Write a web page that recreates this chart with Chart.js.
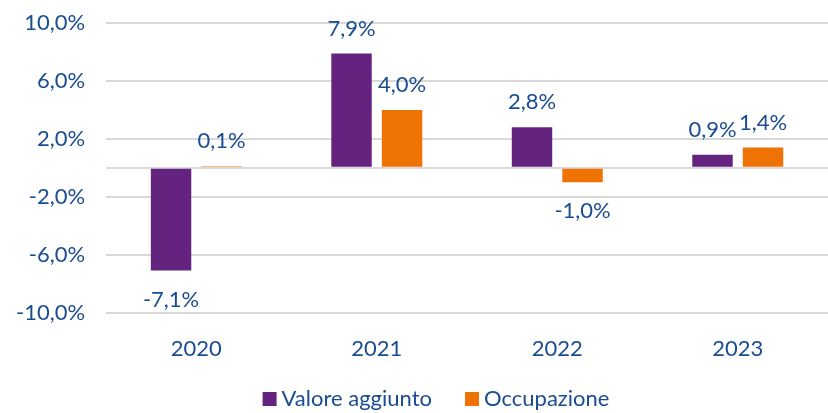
<!DOCTYPE html>
<html>
<head>
<meta charset="utf-8">
<script src="https://cdn.jsdelivr.net/npm/chart.js@4"></script>
<style>
  html, body { margin: 0; padding: 0; background: #fff; }
  #wrap { width: 828px; height: 413px; }
</style>
</head>
<body>
<div id="wrap"><canvas id="chart" width="828" height="413"></canvas></div>
<script>
const years = ['2020', '2021', '2022', '2023'];
const seriesNames = ['Valore aggiunto', 'Occupazione'];
const valoreAggiunto = [-7.1, 7.9, 2.8, 0.9];
const occupazione = [0.1, 4.0, -1.0, 1.4];
const yTicks = [-10, -6, -2, 2, 6, 10];

const textColor = '#1a4c91';
const fontFamily = 'Lato, "Noto Sans", sans-serif';
const fontSize = 22;

const fmt = v => v.toFixed(1).replace('.', ',') + '%';

// value labels over / under each bar
const valueLabels = {
    id: 'valueLabels',
    afterDatasetsDraw(chart) {
        const ctx = chart.ctx;
        ctx.save();
        ctx.font = fontSize + 'px ' + fontFamily;
        ctx.fillStyle = textColor;
        ctx.textAlign = 'center';
        ctx.textBaseline = 'middle';
        chart.data.datasets.forEach((ds, i) => {
            const meta = chart.getDatasetMeta(i);
            meta.data.forEach((bar, j) => {
                const v = ds.data[j];
                const y = v >= 0 ? bar.y - 25 : bar.y + 29;
                ctx.fillText(fmt(v), bar.x, y);
            });
        });
        ctx.restore();
    }
};

// legend at the bottom, spaced like the original
const bottomLegend = {
    id: 'bottomLegend',
    afterDraw(chart) {
        const ctx = chart.ctx;
        ctx.save();
        ctx.font = fontSize + 'px ' + fontFamily;
        ctx.textBaseline = 'middle';
        ctx.textAlign = 'left';
        const box = 14, gap = 5, itemGap = 33;
        const items = chart.data.datasets.map(ds => ({
            text: ds.label,
            color: ds.backgroundColor,
            w: box + gap + ctx.measureText(ds.label).width
        }));
        const total = items.reduce((s, it) => s + it.w, 0) + itemGap * (items.length - 1);
        let x = 436 - total / 2;
        const y = 399;
        items.forEach(it => {
            ctx.fillStyle = it.color;
            ctx.fillRect(x, y - box / 2, box, box);
            ctx.fillStyle = textColor;
            ctx.fillText(it.text, x + box + gap, y);
            x += it.w + itemGap;
        });
        ctx.restore();
    }
};

new Chart(document.getElementById('chart'), {
    type: 'bar',
    data: {
        labels: years,
        datasets: [{
            label: seriesNames[0],
            data: valoreAggiunto,
            backgroundColor: '#652380',
            categoryPercentage: 0.56,
            barPercentage: 0.8
        }, {
            label: seriesNames[1],
            data: occupazione,
            backgroundColor: '#ef7204',
            categoryPercentage: 0.56,
            barPercentage: 0.8
        }]
    },
    options: {
        responsive: false,
        animation: false,
        layout: { padding: { top: 23, right: -5, left: 16, bottom: 36 } },
        plugins: {
            tooltip: { enabled: false },
            legend: { display: false }
        },
        scales: {
            x: {
                grid: { display: false },
                border: { display: false },
                ticks: {
                    color: textColor,
                    font: { family: fontFamily, size: fontSize },
                    padding: 15
                }
            },
            y: {
                min: -10,
                max: 10,
                afterBuildTicks: axis => {
                    axis.ticks = [...yTicks, 0].sort((a, b) => a - b).map(v => ({ value: v }));
                },
                grid: {
                    color: '#d9d9d9',
                    lineWidth: 2,
                    drawTicks: true,
                    tickLength: 21,
                    tickColor: 'rgba(0,0,0,0)'
                },
                border: { display: false },
                ticks: {
                    color: textColor,
                    font: { family: fontFamily, size: fontSize },
                    padding: 0,
                    callback: v => v === 0 ? '' : fmt(v)
                }
            }
        }
    },
    plugins: [valueLabels, bottomLegend]
});
</script>
</body>
</html>
